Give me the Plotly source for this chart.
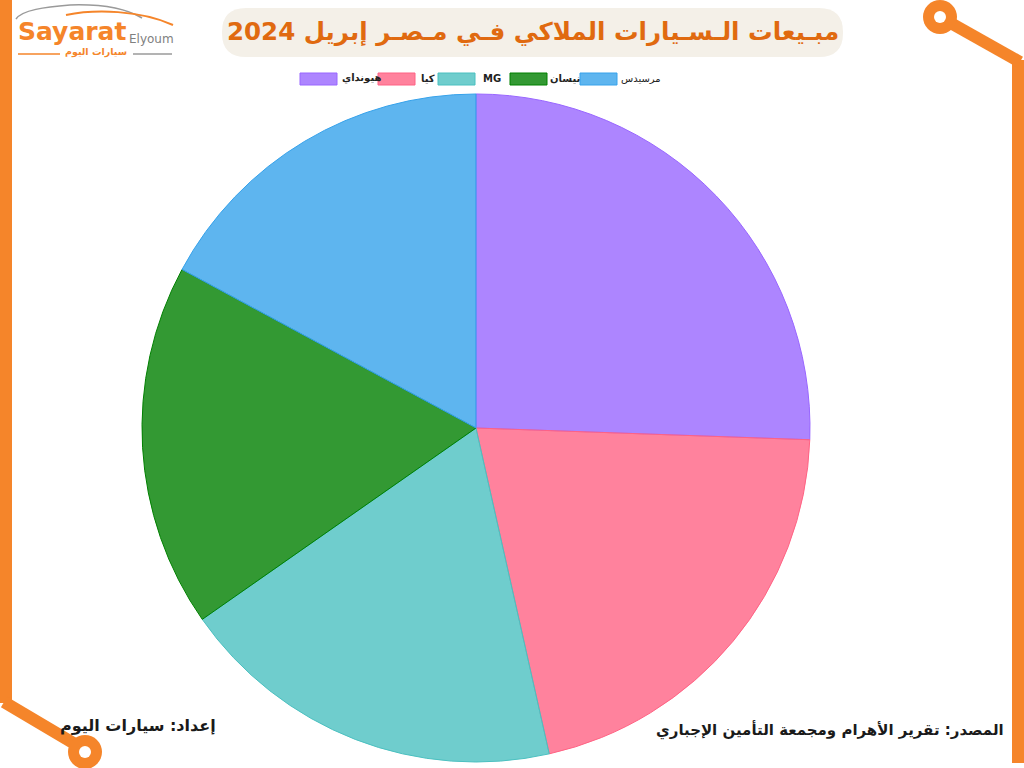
import plotly.graph_objects as go

# ---------------- data ----------------
brands = ["هيونداي", "كيا", "MG", "نيسان", "مرسيدس"]
sales = [2556, 2092, 1881, 1758, 1713]
fill_colors = ["rgba(153,102,255,0.8)", "rgba(255,99,132,0.8)", "rgba(75,192,192,0.8)",
               "rgba(0,128,0,0.8)", "rgba(54,162,235,0.8)"]
line_colors = ["#9966FF", "#FF6384", "#4BC0C0", "#008000", "#36A2EB"]
title_text = "مبـيعات الـسـيارات الملاكي فـي مـصـر إبريل 2024"
credit_text = "إعداد: سيارات اليوم"
source_text = "المصدر: تقرير الأهرام ومجمعة التأمين الإجباري"

W, H = 1024, 768
ORANGE = "#F5852A"


def px(x):
    return x / W


def py(y):
    return 1 - y / H


# pie geometry (pixels)
cx, cy, r = 476, 428, 334

fig = go.Figure()
fig.add_trace(go.Pie(
    labels=brands, values=sales, sort=False, direction="clockwise", rotation=0,
    marker=dict(colors=fill_colors, line=dict(color=line_colors, width=1)),
    textinfo="none", hoverinfo="label+value", showlegend=False,
    domain=dict(x=[px(cx - r), px(cx + r)], y=[py(cy + r), py(cy - r)]),
))

shapes = []
annotations = []


# ---- orange frame decorations ----
def seg(x0, y0, x1, y1, w=12):
    shapes.append(dict(type="line", xref="paper", yref="paper", x0=px(x0), y0=py(y0),
                       x1=px(x1), y1=py(y1), line=dict(color=ORANGE, width=w)))


def ring(x, y, ro=17, ri=6):
    shapes.append(dict(type="circle", xref="paper", yref="paper", x0=px(x - ro), x1=px(x + ro),
                       y0=py(y + ro), y1=py(y - ro), fillcolor=ORANGE, line=dict(width=0)))
    shapes.append(dict(type="circle", xref="paper", yref="paper", x0=px(x - ri), x1=px(x + ri),
                       y0=py(y + ri), y1=py(y - ri), fillcolor="white", line=dict(width=0)))


seg(6, -10, 6, 703)
seg(4, 702, 85, 750)
ring(85, 752)
seg(1018, 763, 1018, 60)
seg(1020, 62, 940, 17)
ring(940, 17)

# ---- title pill ----
x0, x1, y0, y1, rr = 222, 843, 8, 57, 24
path = (f"M {px(x0+rr)},{py(y0)} L {px(x1-rr)},{py(y0)} Q {px(x1)},{py(y0)} {px(x1)},{py(y0+rr)} "
        f"L {px(x1)},{py(y1-rr)} Q {px(x1)},{py(y1)} {px(x1-rr)},{py(y1)} "
        f"L {px(x0+rr)},{py(y1)} Q {px(x0)},{py(y1)} {px(x0)},{py(y1-rr)} "
        f"L {px(x0)},{py(y0+rr)} Q {px(x0)},{py(y0)} {px(x0+rr)},{py(y0)} Z")
shapes.append(dict(type="path", xref="paper", yref="paper", path=path,
                   fillcolor="#F4F0E8", line=dict(width=0)))
annotations.append(dict(text=f"<b>{title_text}</b>", xref="paper", yref="paper",
                        x=px(533), y=py(32), showarrow=False, xanchor="center", yanchor="middle",
                        font=dict(family="DejaVu Sans", size=24.5, color="#E06A10")))

# ---- custom legend ----
legend_box_x = [300, 378, 438, 510, 580]
legend_text_x = [340, 419, 481, 548, 619]
for i, name in enumerate(brands):
    bx = legend_box_x[i]
    shapes.append(dict(type="rect", xref="paper", yref="paper", x0=px(bx), x1=px(bx + 37),
                       y0=py(85), y1=py(73), fillcolor=fill_colors[i],
                       line=dict(color=line_colors[i], width=1)))
    label = name if i == 4 else f"<b>{name}</b>"
    annotations.append(dict(text=label, xref="paper", yref="paper", x=px(legend_text_x[i]), y=py(78),
                            showarrow=False, xanchor="left", yanchor="middle",
                            font=dict(family="DejaVu Sans", size=10, color="#222")))

# ---- logo ----
shapes.append(dict(type="path", xref="paper", yref="paper",
                   path=(f"M {px(16)},{py(19)} C {px(22)},{py(10)} {px(45)},{py(7)} {px(70)},{py(5)} "
                         f"C {px(100)},{py(4)} {px(125)},{py(8)} {px(142)},{py(18)}"),
                   line=dict(color="#9a9a9a", width=1.5)))
shapes.append(dict(type="path", xref="paper", yref="paper",
                   path=(f"M {px(66)},{py(15)} C {px(95)},{py(9)} {px(140)},{py(10)} {px(173)},{py(25)}"),
                   line=dict(color=ORANGE, width=2)))
shapes.append(dict(type="line", xref="paper", yref="paper", x0=px(18), x1=px(60), y0=py(54), y1=py(54),
                   line=dict(color=ORANGE, width=1.5)))
shapes.append(dict(type="line", xref="paper", yref="paper", x0=px(133), x1=px(172), y0=py(54), y1=py(54),
                   line=dict(color="#9a9a9a", width=1.5)))
annotations.append(dict(text="<b>Sayarat</b>", xref="paper", yref="paper", x=px(16), y=py(32),
                        showarrow=False, xanchor="left", yanchor="middle",
                        font=dict(family="DejaVu Sans", size=25, color=ORANGE)))
annotations.append(dict(text="Elyoum", xref="paper", yref="paper", x=px(127), y=py(39),
                        showarrow=False, xanchor="left", yanchor="middle",
                        font=dict(family="DejaVu Sans", size=12, color="#808080")))
annotations.append(dict(text="<b>سيارات اليوم</b>", xref="paper", yref="paper", x=px(96), y=py(52),
                        showarrow=False, xanchor="center", yanchor="middle",
                        font=dict(family="DejaVu Sans", size=9.5, color=ORANGE)))

# ---- footer texts ----
annotations.append(dict(text=f"<b>{credit_text}</b>", xref="paper", yref="paper", x=px(218), y=py(725),
                        showarrow=False, xanchor="right", yanchor="middle",
                        font=dict(family="DejaVu Sans", size=16, color="#1a1a1a")))
annotations.append(dict(text=f"<b>{source_text}</b>", xref="paper", yref="paper", x=px(1006), y=py(730),
                        showarrow=False, xanchor="right", yanchor="middle",
                        font=dict(family="DejaVu Sans", size=15, color="#1a1a1a")))

fig.update_layout(width=W, height=H, margin=dict(l=0, r=0, t=0, b=0),
                  paper_bgcolor="white", plot_bgcolor="white",
                  shapes=shapes, annotations=annotations, showlegend=False)

fig.write_html("out.html", config={"displayModeBar": False},
               post_script="document.body.style.margin='0';document.body.style.overflow='hidden';")
